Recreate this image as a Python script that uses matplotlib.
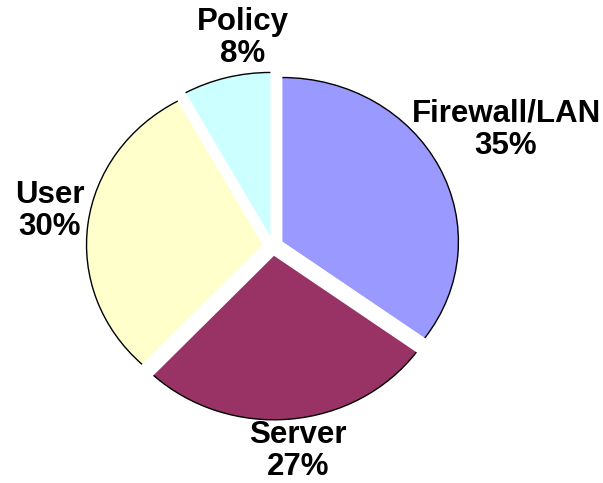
import matplotlib
matplotlib.use("Agg")
import matplotlib.pyplot as plt
from matplotlib.patches import Arc
import numpy as np

categories = ["Firewall/LAN", "Server", "User", "Policy"]
values = [35, 27, 30, 8]
colors = ["#9999FF", "#993366", "#FFFFCC", "#CCFFFF"]
# label centres in pixels (from top-left)
label_px = [(506, 130), (298, 451), (50, 211), (243, 38)]

W, H = 603, 483
fig = plt.figure(figsize=(W / 100, H / 100), dpi=100)
ax = fig.add_axes([0, 0, 1, 1])
cx, cy = 273.0, 246.0
RX, RY = 176.0, 164.0

wedges, _ = ax.pie(values, colors=colors, startangle=90, counterclock=False,
                   explode=[0.06] * 4, radius=1.0,
                   wedgeprops=dict(linewidth=0))
ax.set_aspect("auto")
ax.set_xlim(-cx / RX, (W - cx) / RX)
ax.set_ylim(-(H - cy) / RY, cy / RY)
ax.axis("off")

for w in wedges:
    ax.add_patch(Arc(w.center, 2 * w.r, 2 * w.r, theta1=w.theta1, theta2=w.theta2,
                     color="black", linewidth=1.0))

for cat, v, (px, py) in zip(categories, values, label_px):
    ax.text((px - cx) / RX, (cy - py) / RY, f"{cat}\n{v}%", ha="center", va="center",
            fontsize=22.5, fontweight="bold", family="Liberation Sans", linespacing=1.1)

fig.savefig("out.png", dpi=100)
